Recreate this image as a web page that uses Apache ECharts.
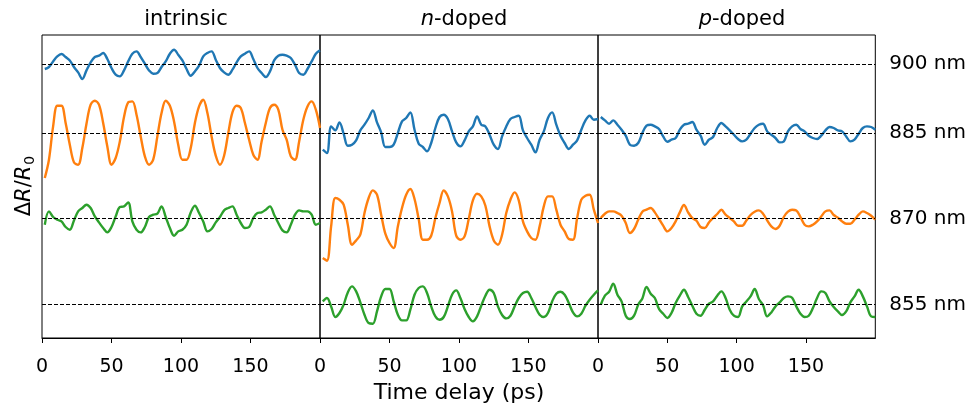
<!DOCTYPE html>
<html>
<head>
<meta charset="utf-8">
<script src="https://cdn.jsdelivr.net/npm/echarts@6/dist/echarts.min.js"></script>
<style>
  html, body { margin: 0; padding: 0; background: #fff; }
  #chart { width: 969px; height: 411px; }
</style>
</head>
<body>
<div id="chart"></div>
<script>
// time axis (ps), shared by every trace
const timePs = [2, 5, 8, 11, 14, 17, 20, 23, 26, 29, 32, 35, 38, 41, 44, 47, 50, 53, 56, 59, 62, 65, 68, 71, 74, 77, 80, 83, 86, 89, 92, 95, 98,
  101, 104, 107, 110, 113, 116, 119, 122, 125, 128, 131, 134, 137, 140, 143, 146, 149, 152, 155, 158, 161, 164, 167, 170, 173, 176, 179, 182, 185, 188, 191, 194, 197, 200];

// offset traces (arb. units, already shifted to their wavelength level)
const intrinsic900 = [235.7, 237.7, 243.3, 248.3, 250.7, 247.7, 244.3, 237.7, 232.3, 225.7, 234.3, 242.3, 247.7, 249, 251.7, 245.7, 236.7, 230, 228.3, 234.3, 243.3, 251, 253.3, 247.7, 241, 234.3, 231, 231.7, 237.7, 243.3, 251, 255, 250,
  244.3, 235.7, 229, 233.3, 239, 248.3, 251.7, 253.3, 245, 236.7, 232.3, 230, 235, 242.3, 248.3, 251, 253.3, 245.7, 236.7, 231.7, 227.7, 233.3, 244.3, 249, 250, 249, 246.7, 240, 231.7, 230, 235.7, 243.3, 251, 254.3];
const intrinsic885 = [126.7, 145, 178.3, 199, 199, 181.7, 160, 142.3, 140, 156.7, 181, 200, 204, 200, 181.7, 158.3, 140, 146.7, 163.3, 187.7, 202.3, 203.3, 190, 168.3, 148.3, 140, 145, 168.3, 191.7, 204, 199, 183.3, 160,
  145, 145, 156.7, 181.7, 198.3, 205, 191.7, 168.3, 149, 140, 149, 171.7, 192.3, 199, 196.7, 181.7, 165, 150, 145, 163.3, 181.7, 196.7, 200, 195, 175, 165, 148.3, 145, 163.3, 185, 198.3, 203.3, 195, 176.7];
const intrinsic870 = [80, 93.3, 87.7, 85, 83.3, 77.7, 75, 84.3, 93.3, 96.7, 100, 96.7, 88.3, 82.3, 76.7, 72.3, 77.7, 88.3, 97.7, 98.3, 102.3, 83.3, 75, 72.3, 77.7, 87.7, 90, 91, 98.3, 87.7, 76.7, 69, 73.3,
  75, 80, 92.3, 99, 91.7, 83.3, 73.3, 75.7, 82.3, 87.7, 94.3, 96.7, 98.3, 90, 81.7, 76.7, 77.7, 86.7, 91.7, 92.3, 95, 98.3, 90, 81.7, 74.3, 72.3, 80, 90, 94.3, 93.3, 93.3, 90, 80, 81.7];

const nDoped885 = [155, 151.7, 178.3, 174.3, 182.3, 171, 159, 160, 164.3, 174.3, 180, 186.7, 194.3, 182.3, 172.3, 157.7, 157.7, 160, 171.7, 183.3, 186.7, 192.3, 175, 161, 157.7, 153.3, 161.7, 176.7, 187.7, 190, 185.7, 173.3, 162.3,
  158.3, 164.3, 173.3, 178.3, 188.3, 180, 178.3, 170, 160, 155.7, 168.3, 178.3, 185.7, 187.7, 189, 174.3, 166.7, 160, 152.3, 165, 173.3, 186.7, 192.3, 180, 169, 161.7, 155.7, 160, 164.3, 175, 184.3, 189, 185, 185.7];
const nDoped870 = [46.7, 44, 78.3, 106.7, 105, 100, 80, 60, 64.3, 70, 91.7, 106.7, 114.3, 110, 90, 71, 61.7, 56.7, 78.3, 96.7, 110, 115.7, 105.7, 85.7, 65, 65, 69, 86.7, 101.7, 114.3, 108.3, 93.3, 69,
  65, 68.3, 85.7, 104.3, 111, 108.3, 99, 78.3, 64.3, 60, 70, 91.7, 105, 112.3, 104.3, 83.3, 73.3, 66.7, 65, 78.3, 98.3, 108.3, 108.3, 95, 80, 73.3, 65.7, 65, 86.7, 105, 109, 110, 95, 81.7];
const nDoped855 = [3.3, 6.7, -1.7, -12.3, -8.3, 0, 12.3, 18.3, 13.3, 2.3, -10, -18.3, -19, -6.7, 8.3, 15.7, 15.7, 3.3, -10, -15.7, -15.7, -5, 10, 16.7, 18.3, 11.7, -1.7, -11.7, -15, -12.3, -1.7, 10, 14.3,
  6.7, -4.3, -12.3, -16.7, -11.7, -1, 9, 15, 11.7, -1.7, -10.3, -13.7, -11, -1.7, 6.7, 11.7, 13, 6.7, -2.3, -10, -12.3, -8.3, 3.3, 11, 13, 10, 1.7, -7.7, -11.7, -9, -1, 5, 10, 14.3];

const pDoped885 = [187.7, 184.3, 181, 184.3, 180, 175, 169, 160, 159, 161.7, 171.7, 179, 180, 178.3, 175.7, 168.3, 163, 165, 166.7, 175, 180, 181, 182.7, 175, 169, 160, 165, 167.7, 176.7, 181.7, 178.3, 174.3, 170,
  165.7, 163.3, 165, 171, 176.7, 180, 181, 173.3, 170, 166.7, 162.3, 163.3, 173.3, 178.3, 180, 175.7, 173.3, 169, 166.7, 165.7, 169, 174.3, 177.7, 176.7, 174.3, 173.3, 168.3, 163.3, 165, 171, 176.7, 178.3, 177.7, 175];
const pDoped870 = [86.7, 91, 93.3, 93.3, 91.7, 89, 81.7, 71.7, 75.7, 85, 93, 95, 96.7, 92.3, 85.7, 79, 73.3, 76.7, 83.3, 92.3, 99.7, 92.3, 86.7, 84, 77.7, 76.7, 82.3, 86.7, 90.7, 95, 90, 86.7, 83.3,
  79, 79, 84.3, 89.7, 93, 94.3, 91, 84.3, 78.3, 75.7, 79, 87.7, 93, 95, 94.3, 87.7, 80, 78.3, 80, 83.3, 88.3, 93.3, 94.3, 89.7, 87, 83.3, 81, 81, 85, 90, 93.3, 91.7, 89, 85];
const pDoped855 = [0, 9, 13, 21, 10, 3.3, -11, -14.3, -11, 0, 6.3, 17.7, 11, 6.7, -4.3, -9, -13.3, -8.3, 1.7, 9, 15, 7.7, -1, -9, -11, -5, 1, 3.3, 9, 13.3, 6.7, -5, -11,
  -12.3, -1.7, 3.3, 8.3, 15.7, 5.7, -0.3, -11.7, -7.7, -1.7, 2.3, 6.7, 8.3, 7, -1.7, -9, -12.3, -11, -3.3, 6.7, 13.3, 11.7, 3.3, -2.3, -6.7, -10.3, -6.7, 2.3, 8.3, 15, 8.3, -1.7, -11.7, -12.3];

// wavelength levels (dashed reference lines) and their labels
const levelValues = [0, 86, 171.7, 240.7];
const levelLabels = ['855 nm', '870 nm', '885 nm', '900 nm'];

// panel titles and x tick labels
const panelTitles = ['intrinsic', '{i|n}-doped', '{i|p}-doped'];
const xTicks = [0, 50, 100, 150];

const font = 'DejaVu Sans';
const blue = '#1f77b4', orange = '#ff7f0e', green = '#2ca02c';
const panelLeft = [42, 320, 598];
const panelW = 278;

const traces = [
  { panel: 0, values: intrinsic900, color: blue },
  { panel: 0, values: intrinsic885, color: orange },
  { panel: 0, values: intrinsic870, color: green },
  { panel: 1, values: nDoped885, color: blue },
  { panel: 1, values: nDoped870, color: orange },
  { panel: 1, values: nDoped855, color: green },
  { panel: 2, values: pDoped885, color: blue },
  { panel: 2, values: pDoped870, color: orange },
  { panel: 2, values: pDoped855, color: green }
];

const chart = echarts.init(document.getElementById('chart'));

const series = traces.map(tr => ({
  type: 'line',
  xAxisIndex: tr.panel,
  yAxisIndex: tr.panel,
  data: timePs.map((t, k) => [t, tr.values[k]]),
  showSymbol: false,
  smooth: 0.35,
  lineStyle: { color: tr.color, width: 2.4 },
  itemStyle: { color: tr.color },
  z: 2
}));

// dashed wavelength levels in each panel
panelLeft.forEach((_, i) => {
  series.push({
    type: 'line',
    xAxisIndex: i,
    yAxisIndex: i,
    data: [],
    z: 3,
    markLine: {
      silent: true,
      symbol: ['none', 'none'],
      label: { show: false },
      lineStyle: { color: '#000', width: 1, type: [4, 2] },
      data: levelValues.map(v => ({ yAxis: v }))
    }
  });
});

const option = {
  animation: false,
  backgroundColor: '#fff',
  title: panelTitles.map((txt, i) => ({
    text: txt,
    left: panelLeft[i] + panelW / 2,
    top: 4,
    textAlign: 'center',
    textStyle: {
      fontFamily: font, fontSize: 21, fontWeight: 'normal', color: '#000',
      rich: { i: { fontFamily: font, fontSize: 21, fontStyle: 'italic', color: '#000' } }
    }
  })),
  grid: panelLeft.map(l => ({
    left: l, top: 35, width: panelW, height: 303,
    show: true, borderColor: '#000', borderWidth: 1, backgroundColor: 'transparent'
  })),
  xAxis: panelLeft.map((_, i) => ({
    type: 'value',
    gridIndex: i,
    min: 0,
    max: 200,
    axisLine: { show: true, onZero: false, lineStyle: { color: '#000', width: 1 } },
    axisTick: { show: true, customValues: xTicks, length: 5, lineStyle: { color: '#000', width: 1 } },
    axisLabel: { customValues: xTicks, color: '#000', fontFamily: font, fontSize: 19, margin: 20 },
    splitLine: { show: false },
    name: i === 1 ? 'Time delay (ps)' : '',
    nameLocation: 'middle',
    nameGap: 43,
    nameTextStyle: { fontFamily: font, fontSize: 22, color: '#000' }
  })),
  yAxis: panelLeft.map((_, i) => ({
    type: 'value',
    gridIndex: i,
    min: -33.3,
    max: 269.7,
    position: i === 2 ? 'right' : 'left',
    axisLine: { show: false, onZero: false },
    axisTick: { show: false },
    splitLine: { show: false },
    axisLabel: i === 2 ? {
      show: true,
      customValues: levelValues,
      formatter: v => levelLabels[levelValues.indexOf(v)],
      color: '#000', fontFamily: font, fontSize: 20, margin: 14,
      padding: [0, 0, 6, 0]
    } : { show: false }
  })),
  graphic: [{
    type: 'text',
    x: 25,
    y: 186,
    rotation: Math.PI / 2,
    style: {
      text: '{d|Δ}{r|R}{d|/}{r|R}{s|0}',
      textAlign: 'center',
      textVerticalAlign: 'middle',
      align: 'center',
      verticalAlign: 'middle',
      rich: {
        d: { fontFamily: font, fontSize: 21, fill: '#000', lineHeight: 24 },
        r: { fontFamily: font, fontSize: 21, fontStyle: 'italic', fill: '#000', lineHeight: 24 },
        s: { fontFamily: font, fontSize: 14, fill: '#000', lineHeight: 24, verticalAlign: 'bottom', padding: [0, 0, 0, 1] }
      }
    }
  }],
  series: series
};

chart.setOption(option);
</script>
</body>
</html>
